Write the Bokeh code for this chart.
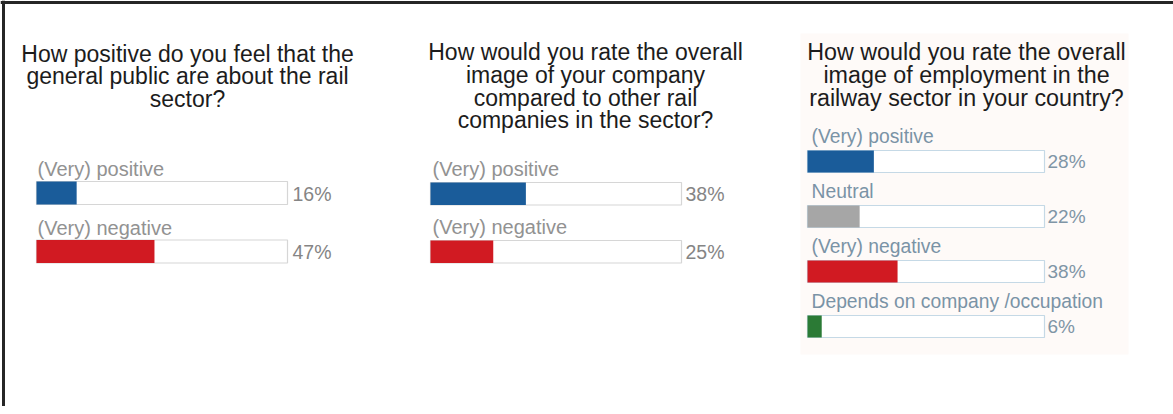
from bokeh.plotting import figure
from bokeh.models import Range1d, ColumnDataSource, Span
from bokeh.core.properties import value
from bokeh.embed import file_html
from bokeh.resources import INLINE

# ---------------- data ----------------
p1_title = ["How positive do you feel that the", "general public are about the rail", "sector?"]
p1_cats = ["(Very) positive", "(Very) negative"]
p1_vals = [16, 47]

p2_title = ["How would you rate the overall", "image of your company", "compared to other rail",
            "companies in the sector?"]
p2_cats = ["(Very) positive", "(Very) negative"]
p2_vals = [38, 25]

p3_title = ["How would you rate the overall", "image of employment in the",
            "railway sector in your country?"]
p3_cats = ["(Very) positive", "Neutral", "(Very) negative", "Depends on company /occupation"]
p3_vals = [28, 22, 38, 6]

# ---------------- styles ----------------
BLUE, RED, GREY, GREEN = "#1a5c9a", "#d11a22", "#a6a6a6", "#2b7a35"
p1_colors = [BLUE, RED]
p2_colors = [BLUE, RED]
p3_colors = [BLUE, GREY, RED, GREEN]
FONT = "Liberation Sans"
MID = 0.35  # em offset from baseline to the middle of the em box

W, H = 1173, 406
p = figure(width=W, height=H, output_backend="svg", toolbar_location=None,
           x_range=Range1d(0, W), y_range=Range1d(H, 0),
           min_border=0)
p.axis.visible = False
p.grid.visible = False
p.outline_line_color = None
p.background_fill_color = "white"
p.border_fill_color = "white"

# frame (left edge and top edge only) as spans across the whole frame
p.add_layout(Span(location=3, dimension="height", line_color="#262626", line_width=3))
p.add_layout(Span(location=2, dimension="width", line_color="#262626", line_width=3))

# faint tinted background of the third panel
p.quad(left=[800], right=[1128], top=[33], bottom=[354], fill_color="#fefaf8",
       line_color=None)


def px(s):
    return float(s.replace("px", ""))


def panel(title, cats, vals, colors, cfg):
    # title
    ts = px(cfg["t_size"])
    ys = [cfg["t_y0"] + i * cfg["t_dy"] - MID * ts for i in range(len(title))]
    p.text(x=[cfg["t_cx"]] * len(title), y=ys, text=title, text_font=value(FONT),
           text_font_size=cfg["t_size"], text_color="#1c1c1c", text_align="center",
           text_baseline="middle")
    n = len(cats)
    tops = [cfg["b_y0"] + i * cfg["b_dy"] for i in range(n)]
    bottoms = [t + cfg["b_h"] for t in tops]
    x0 = cfg["x0"]
    scale = cfg["w"] / 100.0
    # tracks
    p.quad(left=[x0] * n, right=[x0 + cfg["w"]] * n, top=tops, bottom=bottoms,
           fill_color="white", line_color=cfg["track"], line_width=1.2)
    # fills
    src = ColumnDataSource(dict(l=[x0] * n, r=[x0 + v * scale for v in vals],
                                t=tops, b=bottoms, c=colors))
    p.quad(left="l", right="r", top="t", bottom="b", fill_color="c", line_color=None,
           source=src)
    # category labels
    ls = px(cfg["l_size"])
    p.text(x=[x0 + cfg["l_dx"]] * n, y=[t - cfg["l_off"] - MID * ls for t in tops], text=cats,
           text_font=value(FONT), text_font_size=cfg["l_size"], text_color=cfg["l_col"],
           text_baseline="middle")
    # values
    vs = px(cfg["v_size"])
    p.text(x=[x0 + cfg["w"] + cfg["v_dx"]] * n, y=[t + cfg["v_off"] - MID * vs for t in tops],
           text=[f"{v}%" for v in vals], text_font=value(FONT),
           text_font_size=cfg["v_size"], text_color=cfg["v_col"],
           text_baseline="middle")


panel(p1_title, p1_cats, p1_vals, p1_colors,
      dict(t_cx=187, t_y0=61.5, t_dy=22.5, t_size="23px",
           x0=36, w=251, b_y0=181, b_dy=58.5, b_h=23, track="#d6d6d6",
           l_dx=1, l_off=5.5, l_size="20px", l_col="#929292",
           v_dx=5, v_off=19, v_size="19.5px", v_col="#858585"))

panel(p2_title, p2_cats, p2_vals, p2_colors,
      dict(t_cx=585, t_y0=60, t_dy=22.6, t_size="23px",
           x0=430, w=251, b_y0=182, b_dy=58, b_h=22.5, track="#d6d6d6",
           l_dx=2, l_off=6.5, l_size="20px", l_col="#929292",
           v_dx=4, v_off=18.5, v_size="19.5px", v_col="#858585"))

panel(p3_title, p3_cats, p3_vals, p3_colors,
      dict(t_cx=966, t_y0=59.5, t_dy=23, t_size="23.3px",
           x0=807, w=237, b_y0=150, b_dy=55, b_h=22, track="#c5d9e6",
           l_dx=4, l_off=7, l_size="19.3px", l_col="#7a93a6",
           v_dx=3, v_off=18, v_size="19px", v_col="#7f95a6"))

open("out.html", "w").write(file_html(p, INLINE))
